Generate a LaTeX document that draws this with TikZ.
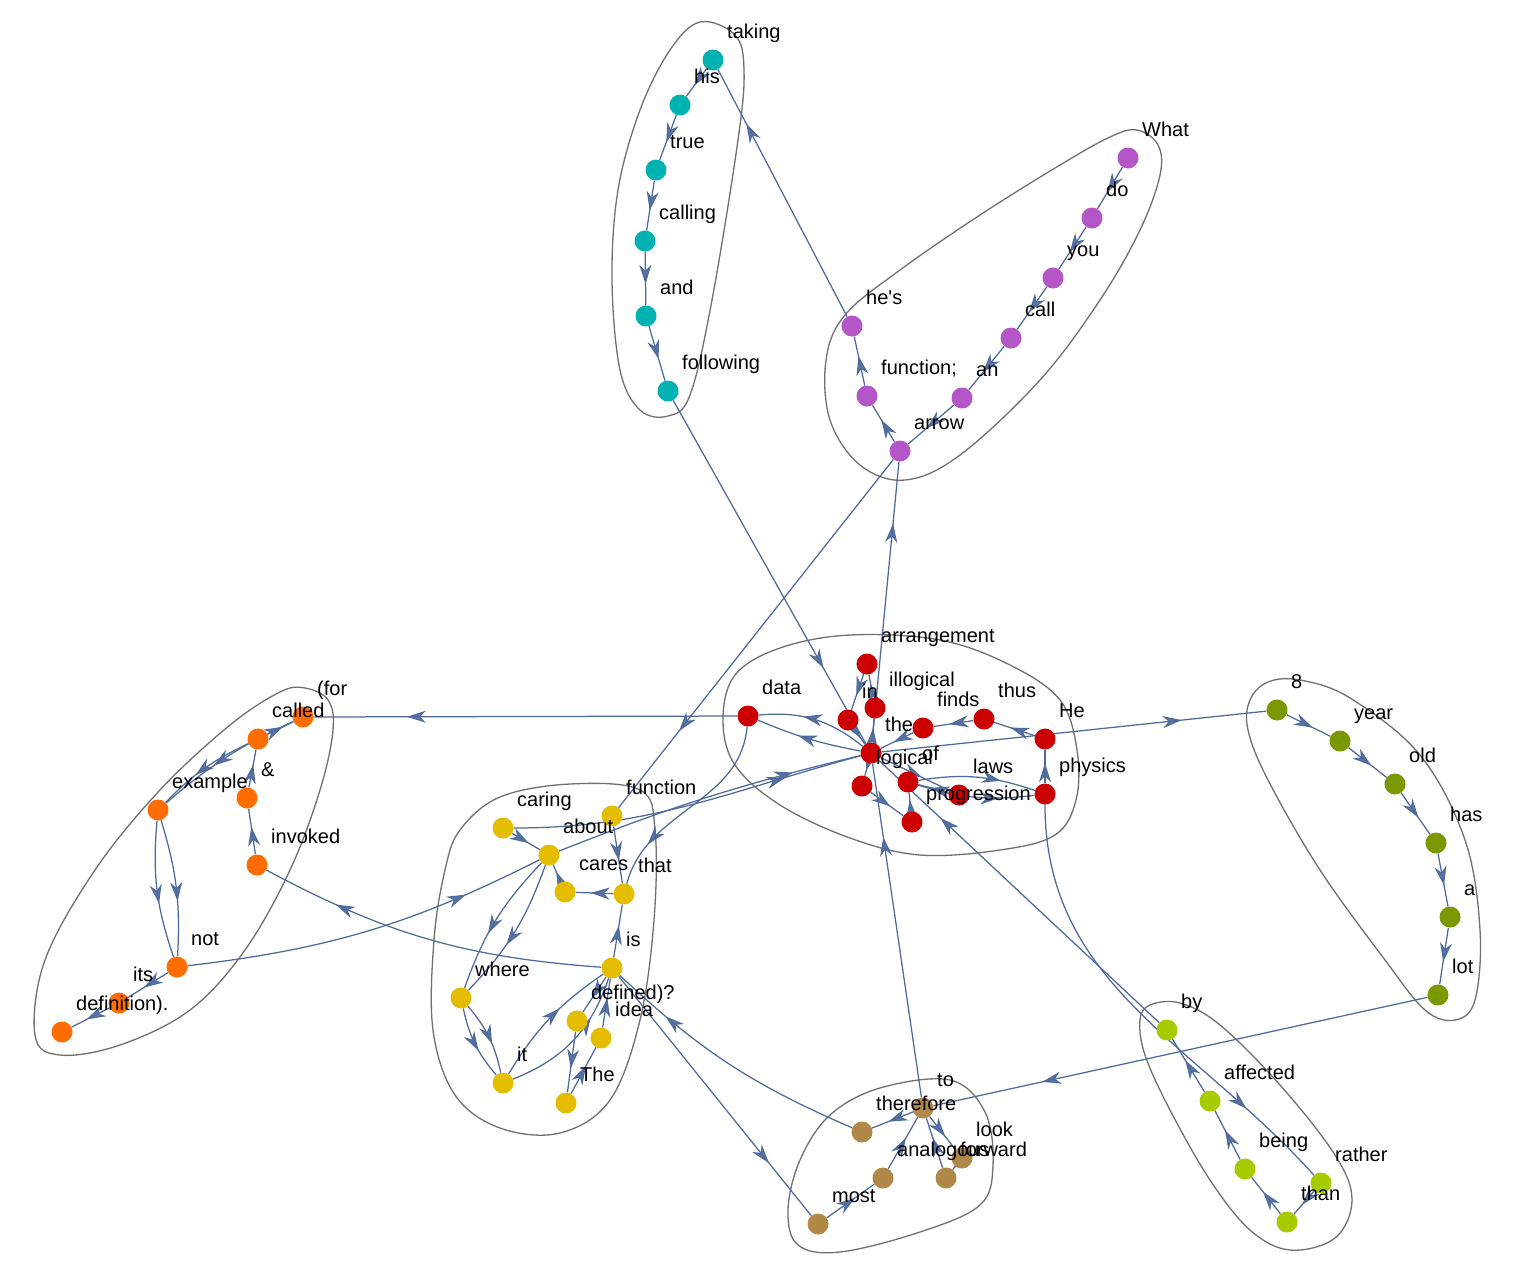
\documentclass[tikz,border=0pt]{standalone}
\usepackage{fontspec}
\setmainfont{Liberation Sans}
\usetikzlibrary{arrows.meta,decorations.markings}
\pgfdeclarelayer{bg}
\pgfdeclarelayer{edges}
\pgfdeclarelayer{lbls}
\pgfsetlayers{bg,edges,main,lbls}
\definecolor{ecol}{RGB}{78,106,156}
\definecolor{hcol}{RGB}{112,112,112}
\definecolor{cteal}{RGB}{0,178,178}
\definecolor{cpurp}{RGB}{180,85,200}
\definecolor{cred}{RGB}{204,0,0}
\definecolor{corange}{RGB}{255,108,0}
\definecolor{cyellow}{RGB}{228,188,0}
\definecolor{cbrown}{RGB}{176,136,72}
\definecolor{clime}{RGB}{166,204,0}
\definecolor{colive}{RGB}{122,152,0}
\tikzset{
  dot/.style={circle,inner sep=0pt,minimum size=21pt,draw=none},
  lbl/.style={anchor=base west,inner sep=0pt,text=black,font=\fontsize{20}{23}\selectfont},
  ed/.style={draw=ecol,line width=1.25pt,postaction={decorate},
    decoration={markings,mark=at position #1 with {\arrow[color=ecol,fill opacity=0.9]{Stealth[length=19pt,width=12pt,inset=6pt]}}}},
  ed/.default=0.6,
  hull/.style={draw=hcol,line width=1.3pt}
}
\newcommand{\wn}[5]{\node[dot,fill=#4] (#1) at (#2,#3) {};
  \begin{pgfonlayer}{lbls}\node[lbl] at (#2+14,#3-22) {#5};\end{pgfonlayer}}
\begin{document}
\begin{tikzpicture}[x=1pt,y=-1pt]
\begin{pgfonlayer}{bg}
\fill[white] (0,0) rectangle (1514,1286);
\end{pgfonlayer}
\useasboundingbox (0,0) rectangle (1514,1286);
% ---------- nodes ----------
% teal
\wn{taking}{713}{60}{cteal}{taking}
\wn{his}{680}{105}{cteal}{his}
\wn{true}{656}{170}{cteal}{true}
\wn{calling}{645}{241}{cteal}{calling}
\wn{and}{646}{316}{cteal}{and}
\wn{following}{668}{391}{cteal}{following}
% purple
\wn{What}{1128}{158}{cpurp}{What}
\wn{do}{1092}{218}{cpurp}{do}
\wn{you}{1053}{278}{cpurp}{you}
\wn{call}{1011}{338}{cpurp}{call}
\wn{an}{962}{398}{cpurp}{an}
\wn{arrow}{900}{451}{cpurp}{arrow}
\wn{functionp}{867}{396}{cpurp}{function;}
\wn{hes}{852}{326}{cpurp}{he\textquotesingle s}
% red
\wn{arrangement}{867}{664}{cred}{arrangement}
\wn{illogical}{875}{708}{cred}{illogical}
\wn{in}{848}{720}{cred}{in}
\wn{data}{748}{716}{cred}{data}
\wn{finds}{923}{728}{cred}{finds}
\wn{the}{871}{753}{cred}{the}
\wn{thus}{984}{719}{cred}{thus}
\wn{He}{1045}{739}{cred}{He}
\wn{physics}{1045}{794}{cred}{physics}
\wn{of}{908}{782}{cred}{of}
\wn{logical}{862}{786}{cred}{logical}
\wn{laws}{959}{795}{cred}{laws}
\wn{progression}{912}{822}{cred}{progression}
% yellow
\wn{caring}{503}{828}{cyellow}{caring}
\wn{function}{612}{816}{cyellow}{function}
\wn{about}{549}{855}{cyellow}{about}
\wn{cares}{565}{892}{cyellow}{cares}
\wn{that}{624}{894}{cyellow}{that}
\wn{is}{612}{968}{cyellow}{is}
\wn{where}{461}{998}{cyellow}{where}
\wn{defined}{577}{1021}{cyellow}{defined)?}
\wn{idea}{601}{1038}{cyellow}{idea}
\wn{it}{503}{1083}{cyellow}{it}
\wn{The}{566}{1103}{cyellow}{The}
% orange
\wn{for}{303}{717}{corange}{(for}
\wn{called}{258}{739}{corange}{called}
\wn{example}{158}{810}{corange}{example}
\wn{amp}{247}{798}{corange}{\&}
\wn{invoked}{257}{865}{corange}{invoked}
\wn{not}{177}{967}{corange}{not}
\wn{its}{119}{1003}{corange}{its}
\wn{definition}{62}{1032}{corange}{definition).}
% brown
\wn{to}{923}{1108}{cbrown}{to}
\wn{therefore}{862}{1132}{cbrown}{therefore}
\wn{look}{962}{1158}{cbrown}{look}
\wn{forward}{946}{1178}{cbrown}{forward}
\wn{analogous}{883}{1178}{cbrown}{analogous}
\wn{most}{818}{1224}{cbrown}{most}
% lime
\wn{by}{1167}{1030}{clime}{by}
\wn{affected}{1210}{1101}{clime}{affected}
\wn{being}{1245}{1169}{clime}{being}
\wn{than}{1287}{1222}{clime}{than}
\wn{rather}{1321}{1183}{clime}{rather}
% olive
\wn{eight}{1277}{710}{colive}{8}
\wn{year}{1340}{741}{colive}{year}
\wn{old}{1395}{784}{colive}{old}
\wn{has}{1436}{843}{colive}{has}
\wn{a}{1450}{917}{colive}{a}
\wn{lot}{1438}{995}{colive}{lot}
% ---------- hulls ----------
\begin{pgfonlayer}{bg}
\draw[hull] plot[smooth cycle,tension=0.6] coordinates {(700,22) (735,35) (744,70) (738,140) (712,300) (690,395) (668,416) (640,410) (620,370) (612,280) (618,190) (640,110) (670,50)};
\draw[hull] plot[smooth cycle,tension=0.6] coordinates {(1137,130) (1158,145) (1160,175) (1140,230) (1100,300) (1040,380) (960,455) (905,480) (860,465) (830,420) (826,360) (845,315) (900,270) (980,215) (1060,165) (1110,137)};
\draw[hull] plot[smooth cycle,tension=0.6] coordinates {(723,720) (735,675) (780,648) (850,635) (940,640) (1010,665) (1060,700) (1077,750) (1076,800) (1055,835) (1000,850) (920,855) (850,838) (780,805) (735,765)};
\draw[hull] plot[smooth cycle,tension=0.6] coordinates {(305,688) (328,700) (333,730) (320,790) (290,870) (245,950) (190,1010) (120,1045) (60,1055) (35,1035) (45,960) (95,870) (160,790) (230,725) (280,692)};
\draw[hull] plot[smooth cycle,tension=0.6] coordinates {(460,830) (500,797) (570,784) (640,790) (655,830) (654,920) (640,1020) (610,1100) (560,1133) (500,1128) (455,1095) (433,1030) (434,940) (445,870)};
\draw[hull] plot[smooth cycle,tension=0.6] coordinates {(800,1160) (830,1115) (880,1088) (950,1080) (985,1112) (993,1165) (980,1205) (920,1232) (840,1252) (798,1245) (788,1210)};
\draw[hull] plot[smooth cycle,tension=0.6] coordinates {(1150,1005) (1180,1003) (1220,1025) (1280,1085) (1335,1155) (1352,1200) (1335,1238) (1290,1250) (1250,1230) (1210,1180) (1170,1110) (1145,1055) (1140,1020)};
\draw[hull] plot[smooth cycle,tension=0.6] coordinates {(1250,700) (1268,682) (1300,680) (1350,698) (1420,755) (1465,840) (1480,930) (1475,1000) (1455,1020) (1425,1010) (1385,960) (1320,870) (1268,780) (1248,730)};
\end{pgfonlayer}
% ---------- edges ----------
\begin{pgfonlayer}{edges}
% teal
\draw[ed] (taking) -- (his);
\draw[ed] (his) -- (true);
\draw[ed] (true) -- (calling);
\draw[ed] (calling) -- (and);
\draw[ed] (and) -- (following);
\draw[ed=0.78] (following) -- (the);
% purple
\draw[ed] (What) -- (do);
\draw[ed] (do) -- (you);
\draw[ed] (you) -- (call);
\draw[ed] (call) -- (an);
\draw[ed] (an) -- (arrow);
\draw[ed] (arrow) -- (functionp);
\draw[ed] (functionp) -- (hes);
\draw[ed=0.78] (hes) -- (taking);
\draw[ed=0.78] (arrow) -- (function);
\draw[ed=0.78] (the) -- (arrow);
% red
\draw[ed] (He) -- (thus);
\draw[ed] (thus) -- (finds);
\draw[ed] (finds) -- (the);
\draw[ed] (the) -- (illogical);
\draw[ed] (illogical) -- (arrangement);
\draw[ed] (arrangement) -- (in);
\draw[ed] (in) -- (the);
\draw[ed] (the) to[bend right=22] (data);
\draw[ed] (the) to[bend left=6] (data);
\draw[ed] (the) -- (logical);
\draw[ed] (logical) -- (progression);
\draw[ed] (progression) -- (of);
\draw[ed] (the) -- (laws);
\draw[ed] (laws) -- (of);
\draw[ed=0.7] (of) to[bend left=14] (physics);
\draw[ed=0.7] (of) to[bend right=12] (physics);
\draw[ed] (physics) -- (He);
\draw[ed=0.78] (the) -- (eight);
% olive
\draw[ed] (eight) -- (year);
\draw[ed] (year) -- (old);
\draw[ed] (old) -- (has);
\draw[ed] (has) -- (a);
\draw[ed] (a) -- (lot);
\draw[ed=0.78] (lot) -- (to);
% brown
\draw[ed] (to) -- (therefore);
\draw[ed] (to) -- (look);
\draw[ed] (look) -- (forward);
\draw[ed] (forward) -- (to);
\draw[ed] (most) -- (analogous);
\draw[ed] (analogous) -- (to);
\draw[ed=0.78] (to) -- (the);
\draw[ed=0.78] (therefore) to[bend left=10] (is);
\draw[ed=0.78] (is) -- (most);
% lime
\draw[ed] (rather) -- (than);
\draw[ed] (than) -- (being);
\draw[ed] (being) -- (affected);
\draw[ed] (affected) -- (by);
\draw[ed=0.78] (by) -- (the);
\draw[ed=0.8] (physics) to[out=-90,in=132] (rather);
% yellow
\draw[ed] (function) -- (that);
\draw[ed] (that) -- (cares);
\draw[ed] (cares) -- (about);
\draw[ed] (about) to[bend left=12] (where);
\draw[ed] (about) to[bend right=12] (where);
\draw[ed] (where) to[bend left=14] (it);
\draw[ed] (where) to[bend right=14] (it);
\draw[ed] (it) to[bend left=12] (is);
\draw[ed=0.7] (it) to[bend right=25] (is);
\draw[ed] (is) -- (that);
\draw[ed] (is) -- (defined);
\draw[ed] (defined) -- (The);
\draw[ed] (The) -- (idea);
\draw[ed] (idea) -- (is);
\draw[ed] (caring) -- (about);
\draw[ed=0.78] (caring) to[out=0,in=195] (the);
\draw[ed=0.78] (about) to[bend left=4] (the);
\draw[ed=0.78] (not) to[bend right=10] (about);
\draw[ed=0.78] (is) to[bend left=12] (invoked);
\draw[ed=0.78] (data) to[out=-95,in=75] (that);
% orange
\draw[ed] (invoked) -- (amp);
\draw[ed] (amp) -- (called);
\draw[ed] (called) -- (for);
\draw[ed] (for) to[bend right=8] (example);
\draw[ed] (called) to[bend right=10] (example);
\draw[ed] (example) to[bend left=10] (not);
\draw[ed] (example) to[bend right=12] (not);
\draw[ed] (not) -- (its);
\draw[ed] (its) -- (definition);
\draw[ed=0.78] (data) -- (for);
\end{pgfonlayer}
\end{tikzpicture}
\end{document}
